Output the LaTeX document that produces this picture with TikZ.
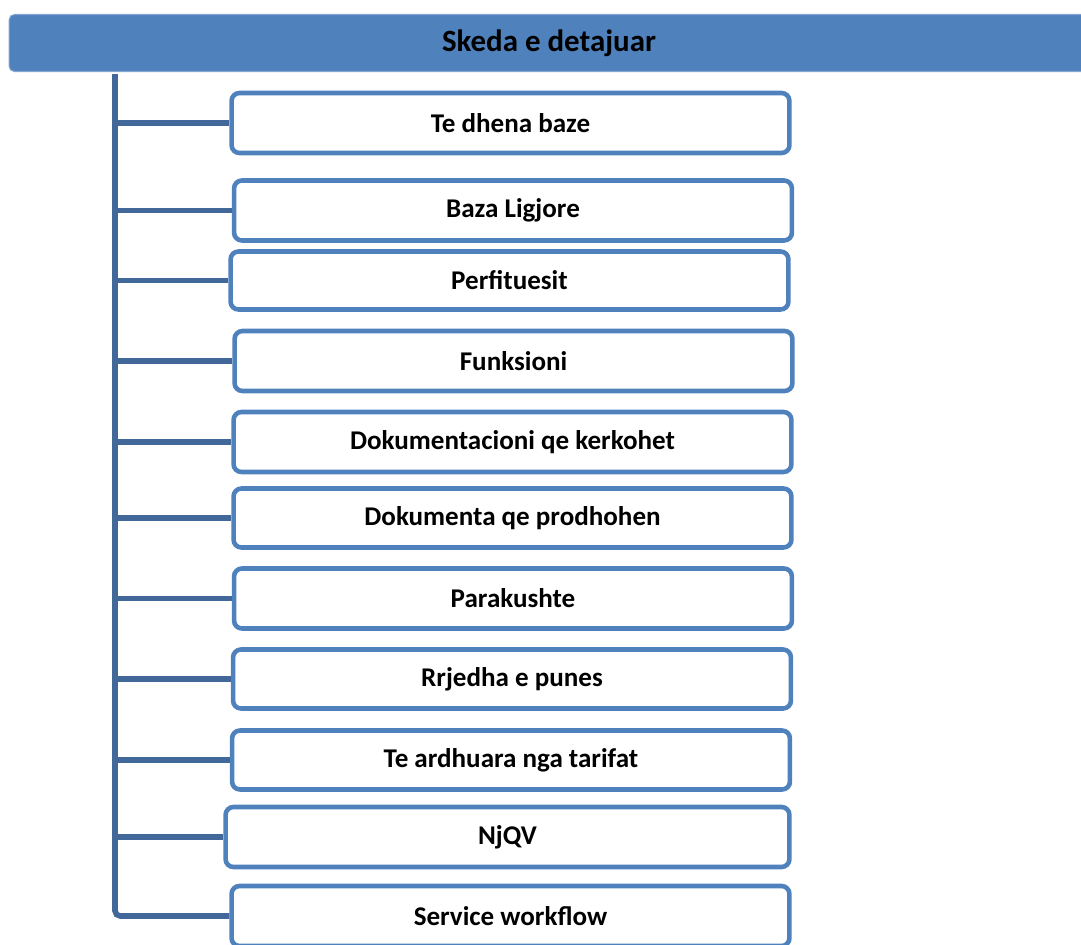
\documentclass[tikz,border=0pt]{standalone}
\usepackage{fontspec}
\setmainfont{Carlito}
\usepackage{tikz}
\definecolor{boxblue}{RGB}{79,129,189}
\definecolor{linkblue}{RGB}{65,104,153}

\begin{document}
\begin{tikzpicture}[x=0.02cm,y=-0.02cm,
    head/.style={fill=boxblue,draw=boxblue!70!white,line width=0.6pt,rounded corners=3pt,
      minimum width=21.6cm,minimum height=1.14cm,inner sep=0pt,
      font=\fontsize{17.6}{20}\selectfont\bfseries},
    item/.style={draw=boxblue,fill=white,line width=2.6pt,rounded corners=4.5pt,
      minimum width=11.16cm,minimum height=1.2cm,inner sep=0pt,
      font=\fontsize{15.4}{18}\selectfont\bfseries},
    link/.style={draw=linkblue,line width=3.2pt}]
    \useasboundingbox (0,0) rectangle (1081,944);
    \clip (0,0) rectangle (1081,944);
    \node[head] (head) at (549,43) {Skeda e detajuar};
    \coordinate (top) at (115,74);
    \node[item] (tdb) at (510.5,123) {Te dhena baze};
    \node[item] (bl) at (513,210.5) {Baza Ligjore};
    \node[item,minimum height=1.16cm] (pf) at (509.5,280.5) {Perfituesit};
    \node[item] (fk) at (513.5,361) {Funksioni};
    \node[item] (dk) at (512.5,442) {Dokumentacioni qe kerkohet};
    \node[item,minimum height=1.18cm] (dp) at (512.5,518) {Dokumenta qe prodhohen};
    \node[item] (pk) at (513,598.5) {Parakushte};
    \node[item,minimum height=1.18cm] (rp) at (512,679) {Rrjedha e punes};
    \node[item,minimum height=1.18cm] (ta) at (511,760) {Te ardhuara nga tarifat};
    \node[item,minimum width=11.28cm] (nj) at (507.5,837) {NjQV};
    \node[item] (sw) at (510.5,916) {Service workflow};
    \foreach \n in {tdb,bl,pf,fk,dk,dp,pk,rp,ta,nj}
      \draw[link] (top) |- (\n.west);
    \draw[link,rounded corners=3pt] (top) |- (sw.west);
  \end{tikzpicture}
\end{document}
